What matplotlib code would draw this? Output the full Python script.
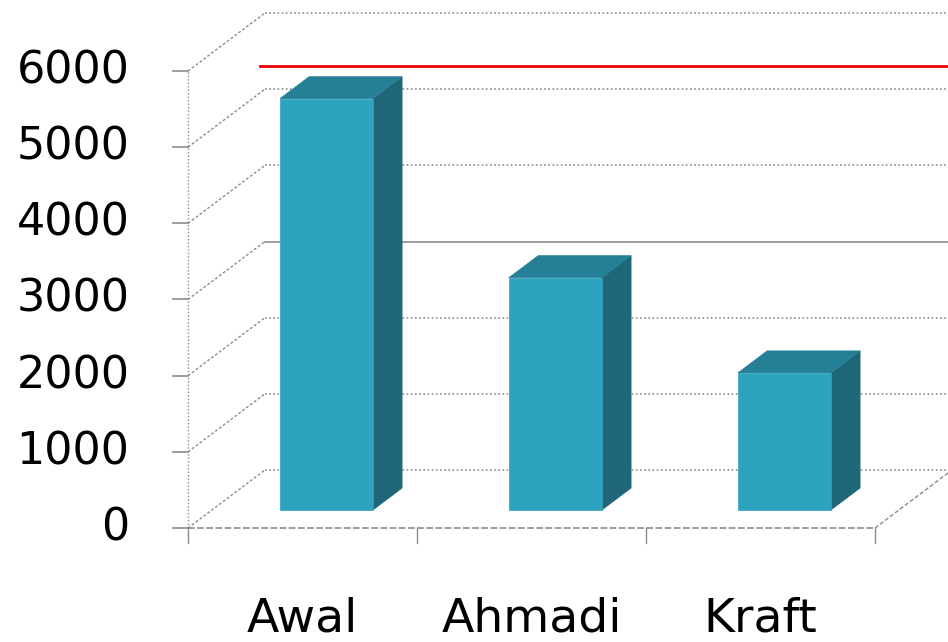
import numpy as np
import matplotlib.pyplot as plt
from matplotlib.patches import Polygon

categories = ["Awal", "Ahmadi", "Kraft"]
values = [5400, 3050, 1800]
yticks = [0, 1000, 2000, 3000, 4000, 5000, 6000]
target_value = 5300      # red line on the back wall
ref_value = 3000         # solid grey line on the back wall

# oblique "3D" projection: full depth shift in data units
DX, DY = 0.336, 761
BAR_W = 0.406
D_FRONT, D_BACK = 0.31, 0.69

FRONT = "#2ea3bf"
SIDE = "#1f6678"
TOP = "#257f97"
GRID = "#8c8c8c"

fig = plt.figure(figsize=(9.48, 6.42), dpi=100)
ax = fig.add_axes([0, 0, 1, 1])
ax.set_xlim(-188 / 229, (948 - 188) / 229)
ax.set_ylim((528 - 642) / 76.17 * 1000, 528 / 76.17 * 1000)
ax.axis("off")

n = len(categories)
ymax = yticks[-1]

# back wall gridlines + left wall diagonals + tick marks
for v in yticks:
    ls = "-" if v == ref_value else (0, (1, 1.5))
    ax.plot([DX, n + DX], [v + DY, v + DY], color=GRID, lw=1.2, ls=ls, zorder=1)
    ax.plot([0, DX], [v, v + DY], color=GRID, lw=1, ls=(0, (2, 1.5)), zorder=1)
    ax.plot([-0.065, 0], [v, v], color=GRID, lw=1.2, zorder=1)
    ax.text(-0.255, v, str(v), ha="right", va="center", fontsize=32,
            family="DejaVu Sans", color="black")

# front axis, floor edges
ax.plot([0, 0], [0, ymax], color=GRID, lw=1, ls=(0, (1, 1.5)), zorder=1)
ax.plot([0, n], [0, 0], color=GRID, lw=1.2, ls=(0, (4, 1.5)), zorder=1)
ax.plot([n, n + DX], [0, DY], color=GRID, lw=1, ls=(0, (3, 1.5)), zorder=1)
for i in range(n + 1):
    ax.plot([i, i], [0, -200], color=GRID, lw=1, zorder=1)

# reference line
ax.plot([DX - 0.02, n + DX], [target_value + DY] * 2, color="#ee0000", lw=2, zorder=1.5)

# bars: side, top, then front face
for i, (cat, v) in enumerate(zip(categories, values)):
    x0 = i + 0.5 - BAR_W / 2 + D_FRONT * DX
    x1 = x0 + BAR_W
    y0 = D_FRONT * DY
    ddx = (D_BACK - D_FRONT) * DX
    ddy = (D_BACK - D_FRONT) * DY
    front = [(x0, y0), (x1, y0), (x1, y0 + v), (x0, y0 + v)]
    side = [(x1, y0), (x1 + ddx, y0 + ddy), (x1 + ddx, y0 + ddy + v), (x1, y0 + v)]
    top = [(x0, y0 + v), (x1, y0 + v), (x1 + ddx, y0 + v + ddy), (x0 + ddx, y0 + v + ddy)]
    for pts, c in ((side, SIDE), (top, TOP), (front, FRONT)):
        ax.add_patch(Polygon(pts, closed=True, facecolor=c, edgecolor=c, lw=0.5, zorder=3))
    ax.text(i + 0.5, -1200, cat, ha="center", va="center", fontsize=34,
            family="DejaVu Sans", color="black")

fig.savefig("out.png", dpi=100)
